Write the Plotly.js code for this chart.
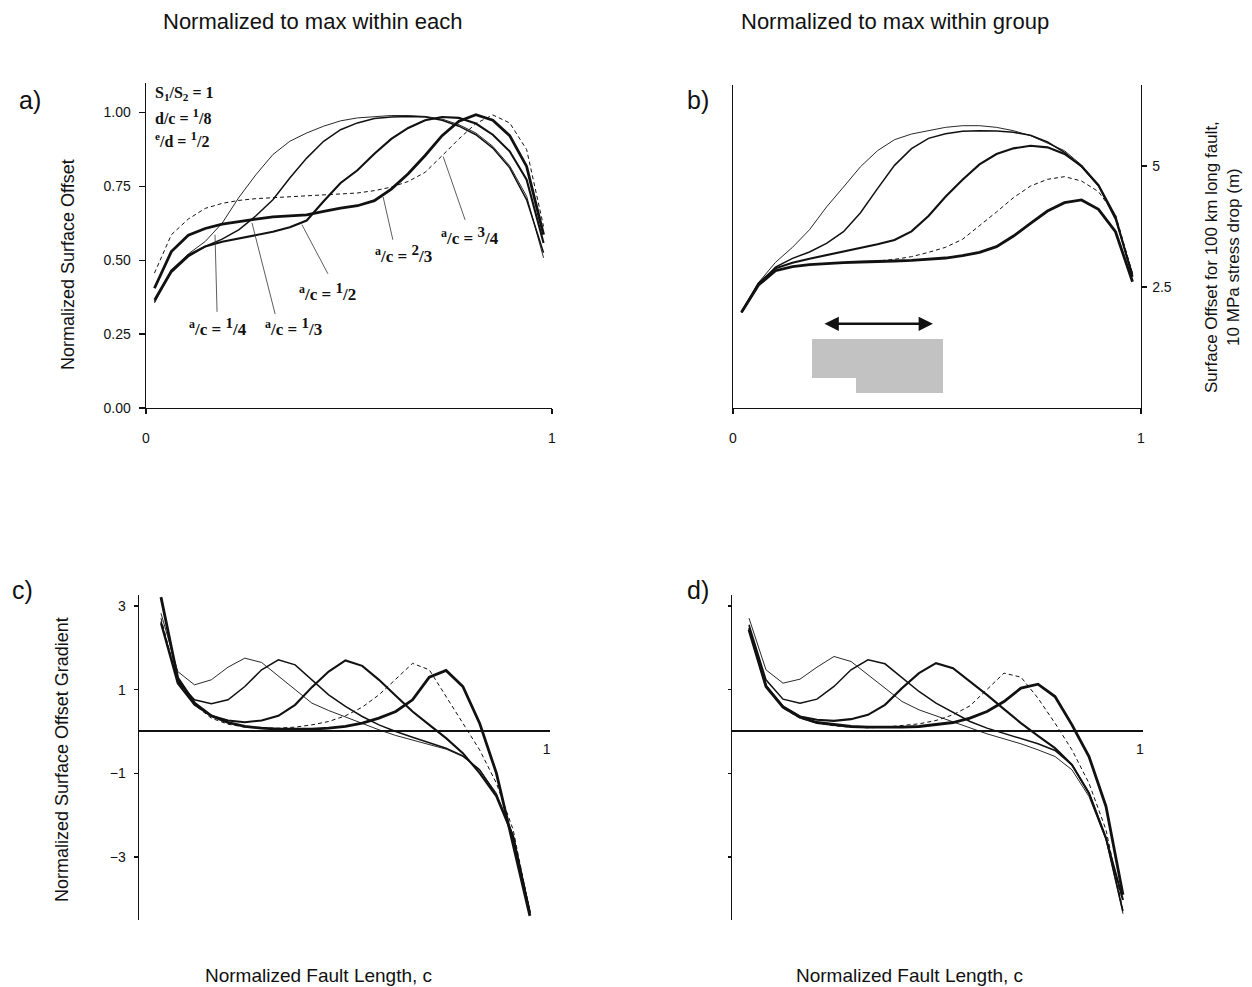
<!DOCTYPE html>
<html>
<head>
<meta charset="utf-8">
<script src="https://cdn.plot.ly/plotly-3.0.1.min.js"></script>
<style>html,body{margin:0;padding:0;background:#fff;}</style>
</head>
<body>
<div id="chart" style="width:1252px;height:987px;"></div>
<script>
// Sample positions along the fault (normalized length c)
const offsetPos = [0.0208, 0.0625, 0.1042, 0.1458, 0.1875, 0.2292, 0.2708, 0.3125, 0.3542, 0.3958,
  0.4375, 0.4792, 0.5208, 0.5625, 0.6042, 0.6458, 0.6875, 0.7292, 0.7708, 0.8125, 0.8542, 0.8958, 0.9375, 0.9792];
const gradientPos = [0.0417, 0.0833, 0.125, 0.1667, 0.2083, 0.25, 0.2917, 0.3333, 0.375, 0.4167,
  0.4583, 0.5, 0.5417, 0.5833, 0.625, 0.6667, 0.7083, 0.75, 0.7917, 0.8333, 0.875, 0.9167, 0.9583];

// a) surface offset, each curve normalized to its own maximum
const eachThin   = [0.355, 0.462, 0.521, 0.563, 0.625, 0.713, 0.789, 0.857, 0.902, 0.930, 0.953, 0.971, 0.981, 0.986, 0.989, 0.989, 0.986, 0.977, 0.958, 0.930, 0.885, 0.819, 0.716, 0.508];
const eachMedium = [0.360, 0.458, 0.512, 0.546, 0.571, 0.603, 0.650, 0.704, 0.778, 0.845, 0.902, 0.941, 0.964, 0.979, 0.984, 0.986, 0.984, 0.973, 0.953, 0.924, 0.879, 0.812, 0.704, 0.525];
const eachThick  = [0.366, 0.465, 0.517, 0.546, 0.562, 0.573, 0.585, 0.596, 0.611, 0.634, 0.699, 0.761, 0.804, 0.860, 0.910, 0.947, 0.973, 0.984, 0.981, 0.962, 0.924, 0.868, 0.772, 0.558];
const eachDashed = [0.456, 0.586, 0.639, 0.675, 0.692, 0.702, 0.708, 0.711, 0.713, 0.716, 0.719, 0.722, 0.727, 0.735, 0.747, 0.766, 0.797, 0.853, 0.910, 0.962, 0.991, 0.964, 0.874, 0.614];
const eachBold   = [0.405, 0.529, 0.584, 0.607, 0.622, 0.631, 0.639, 0.646, 0.650, 0.653, 0.665, 0.676, 0.684, 0.701, 0.740, 0.792, 0.854, 0.921, 0.970, 0.992, 0.973, 0.921, 0.817, 0.586];

// b) surface offset in metres (100 km fault, 10 MPa stress drop)
const groupThin   = [1.977, 2.590, 3.010, 3.320, 3.684, 4.153, 4.566, 4.986, 5.317, 5.544, 5.661, 5.737, 5.799, 5.833, 5.833, 5.799, 5.730, 5.627, 5.468, 5.317, 5.021, 4.607, 3.919, 2.780];
const groupMedium = [1.977, 2.541, 2.913, 3.092, 3.223, 3.402, 3.643, 4.036, 4.532, 5.014, 5.358, 5.572, 5.668, 5.716, 5.730, 5.723, 5.696, 5.634, 5.496, 5.282, 4.986, 4.587, 3.898, 2.750];
const groupThick  = [1.977, 2.576, 2.886, 3.003, 3.085, 3.161, 3.223, 3.306, 3.382, 3.471, 3.650, 3.967, 4.366, 4.718, 5.034, 5.248, 5.365, 5.420, 5.386, 5.248, 5.000, 4.607, 3.953, 2.710];
const groupDashed = [1.977, 2.562, 2.837, 2.920, 2.961, 2.989, 3.010, 3.023, 3.037, 3.072, 3.127, 3.216, 3.320, 3.485, 3.760, 4.050, 4.346, 4.587, 4.725, 4.780, 4.690, 4.470, 3.988, 2.780];
const groupBold   = [1.977, 2.541, 2.837, 2.920, 2.961, 2.989, 3.003, 3.017, 3.023, 3.037, 3.051, 3.072, 3.099, 3.147, 3.216, 3.333, 3.554, 3.815, 4.070, 4.242, 4.298, 4.105, 3.643, 2.610];

// c) offset gradient, normalized within each curve
const gradEachThin   = [2.83, 1.435, 1.116, 1.236, 1.539, 1.754, 1.651, 1.332, 1.013, 0.678, 0.502, 0.343, 0.199, 0.040, -0.096, -0.199, -0.303, -0.423, -0.598, -0.917, -1.475, -2.472, -4.31];
const gradEachMedium = [2.63, 1.196, 0.758, 0.662, 0.758, 1.077, 1.475, 1.715, 1.595, 1.236, 0.877, 0.598, 0.359, 0.159, 0.0, -0.136, -0.263, -0.399, -0.582, -0.917, -1.515, -2.512, -4.31];
const gradEachThick  = [2.59, 1.156, 0.638, 0.375, 0.263, 0.223, 0.263, 0.375, 0.638, 1.061, 1.435, 1.699, 1.571, 1.236, 0.853, 0.478, 0.159, -0.159, -0.518, -0.997, -1.555, -2.512, -4.346];
const gradEachDashed = [2.71, 1.196, 0.638, 0.319, 0.175, 0.104, 0.080, 0.080, 0.104, 0.159, 0.239, 0.375, 0.582, 0.877, 1.252, 1.630, 1.475, 0.837, 0.199, -0.439, -1.236, -2.352, -4.33];
const gradEachBold   = [3.214, 1.276, 0.678, 0.375, 0.215, 0.120, 0.080, 0.056, 0.056, 0.056, 0.080, 0.120, 0.199, 0.319, 0.478, 0.758, 1.300, 1.459, 1.077, 0.199, -0.997, -2.671, -4.41];

// d) offset gradient, normalized within the group
const gradGroupThin   = [2.711, 1.475, 1.156, 1.252, 1.539, 1.794, 1.675, 1.356, 1.037, 0.718, 0.518, 0.375, 0.239, 0.080, -0.056, -0.175, -0.295, -0.439, -0.598, -0.917, -1.555, -2.592, -4.36];
const gradGroupMedium = [2.552, 1.236, 0.774, 0.678, 0.774, 1.077, 1.475, 1.715, 1.619, 1.276, 0.957, 0.678, 0.455, 0.239, 0.080, -0.040, -0.159, -0.295, -0.455, -0.797, -1.475, -2.552, -4.30];
const gradGroupThick  = [2.472, 1.093, 0.598, 0.359, 0.279, 0.255, 0.295, 0.399, 0.638, 1.037, 1.396, 1.635, 1.515, 1.196, 0.877, 0.534, 0.199, -0.104, -0.399, -0.797, -1.475, -2.552, -4.03];
const gradGroupDashed = [2.512, 1.116, 0.558, 0.319, 0.199, 0.136, 0.104, 0.088, 0.104, 0.136, 0.183, 0.263, 0.399, 0.614, 0.997, 1.396, 1.300, 0.797, 0.199, -0.439, -1.236, -2.352, -4.28];
const gradGroupBold   = [2.432, 1.077, 0.582, 0.343, 0.215, 0.159, 0.120, 0.104, 0.096, 0.104, 0.120, 0.159, 0.215, 0.319, 0.478, 0.718, 1.037, 1.132, 0.837, 0.159, -0.598, -1.794, -3.907];

// Axis tick values and labels
const offsetTicks = [0, 0.25, 0.5, 0.75, 1];
const metreTicks = [2.5, 5];
const metreTickText = ['2.5', '5'];
const gradientTicks = [-3, -1, 1, 3];
const lengthTicks = [0, 1];
const lengthTickText = ['0', '1'];

const W = 1252, H = 987;
const fx = p => p / W;
const fy = p => 1 - p / H;
const INK = '#111';
const SANS = 'Liberation Sans, Arial, sans-serif';
const SERIF = 'Liberation Serif, Times New Roman, serif';

const STYLE = {
  thin:   {width: 0.9, dash: 'solid'},
  medium: {width: 1.5, dash: 'solid'},
  thick:  {width: 2.1, dash: 'solid'},
  dashed: {width: 1.0, dash: '4px,3px'},
  bold:   {width: 2.8, dash: 'solid'}
};

function curve(x, y, xa, ya, style) {
  return {
    x: x, y: y, xaxis: xa, yaxis: ya, type: 'scatter', mode: 'lines',
    line: {color: INK, width: STYLE[style].width, dash: STYLE[style].dash, shape: 'linear'},
    hoverinfo: 'skip', showlegend: false
  };
}

const traces = [
  curve(offsetPos, eachThin, 'x', 'y', 'thin'),
  curve(offsetPos, eachMedium, 'x', 'y', 'medium'),
  curve(offsetPos, eachThick, 'x', 'y', 'thick'),
  curve(offsetPos, eachDashed, 'x', 'y', 'dashed'),
  curve(offsetPos, eachBold, 'x', 'y', 'bold'),

  curve(offsetPos, groupThin, 'x2', 'y2', 'thin'),
  curve(offsetPos, groupMedium, 'x2', 'y2', 'medium'),
  curve(offsetPos, groupThick, 'x2', 'y2', 'thick'),
  curve(offsetPos, groupDashed, 'x2', 'y2', 'dashed'),
  curve(offsetPos, groupBold, 'x2', 'y2', 'bold'),

  curve(gradientPos, gradEachThin, 'x3', 'y3', 'thin'),
  curve(gradientPos, gradEachMedium, 'x3', 'y3', 'medium'),
  curve(gradientPos, gradEachThick, 'x3', 'y3', 'thick'),
  curve(gradientPos, gradEachDashed, 'x3', 'y3', 'dashed'),
  curve(gradientPos, gradEachBold, 'x3', 'y3', 'bold'),

  curve(gradientPos, gradGroupThin, 'x4', 'y4', 'thin'),
  curve(gradientPos, gradGroupMedium, 'x4', 'y4', 'medium'),
  curve(gradientPos, gradGroupThick, 'x4', 'y4', 'thick'),
  curve(gradientPos, gradGroupDashed, 'x4', 'y4', 'dashed'),
  curve(gradientPos, gradGroupBold, 'x4', 'y4', 'bold')
];

// Subplot frames (pixel placement converted to paper fractions)
const domA = {x: [fx(146), fx(552)], y: [fy(408), fy(83)]};
const domB = {x: [fx(733), fx(1141)], y: [fy(408), fy(85)]};
const domC = {x: [fx(139), fx(550)], y: [fy(919.6), fy(594.8)]};
const domD = {x: [fx(732), fx(1143)], y: [fy(919.6), fy(594.8)]};
const gradRange = [-4.5, 3.27];
// x axis of the gradient panels sits on the zero line
const zeroPos = dom => dom.y[0] + (0 - gradRange[0]) / (gradRange[1] - gradRange[0]) * (dom.y[1] - dom.y[0]);

const tickFont = {family: SANS, size: 14, color: INK};
const baseAxis = {
  showgrid: false, zeroline: false, showline: true, linecolor: INK, linewidth: 1.4,
  tickcolor: INK, tickwidth: 1.2, tickfont: tickFont, fixedrange: true
};

const layout = {
  width: W, height: H, autosize: false,
  margin: {l: 0, r: 0, t: 0, b: 0, pad: 0},
  paper_bgcolor: '#fff', plot_bgcolor: 'rgba(0,0,0,0)',
  showlegend: false,
  xaxis: Object.assign({}, baseAxis, {domain: domA.x, range: [0, 1], anchor: 'y',
    tickvals: lengthTicks, ticktext: lengthTickText, ticks: 'outside', ticklen: 5, ticklabelstandoff: 12}),
  yaxis: Object.assign({}, baseAxis, {domain: domA.y, range: [0, 1.099], anchor: 'x',
    tickvals: offsetTicks, tickformat: '.2f', ticks: 'outside', ticklen: 6, ticklabelstandoff: 5}),
  xaxis2: Object.assign({}, baseAxis, {domain: domB.x, range: [0, 1], anchor: 'y2',
    tickvals: lengthTicks, ticktext: lengthTickText, ticks: 'outside', ticklen: 5, ticklabelstandoff: 12}),
  yaxis2: Object.assign({}, baseAxis, {domain: domB.y, range: [0, 6.674], anchor: 'x2', side: 'right', mirror: true,
    tickvals: metreTicks, ticktext: metreTickText, ticks: 'outside', ticklen: 5, ticklabelstandoff: 2}),
  xaxis3: Object.assign({}, baseAxis, {domain: domC.x, range: [-0.0129, 1.0082], anchor: 'free', position: zeroPos(domC),
    linewidth: 2, tickvals: [1], ticktext: ['1'], ticks: '', ticklabelstandoff: 5}),
  yaxis3: Object.assign({}, baseAxis, {domain: domC.y, range: gradRange, anchor: 'x3',
    tickvals: gradientTicks, ticks: 'outside', ticklen: 4, ticklabelstandoff: 5}),
  xaxis4: Object.assign({}, baseAxis, {domain: domD.x, range: [0, 1.0074], anchor: 'free', position: zeroPos(domD),
    linewidth: 2, tickvals: [1], ticktext: ['1'], ticks: '', ticklabelstandoff: 5}),
  yaxis4: Object.assign({}, baseAxis, {domain: domD.y, range: gradRange, anchor: 'x4',
    tickvals: gradientTicks, ticks: 'outside', ticklen: 3, showticklabels: false}),
  shapes: [],
  annotations: []
};

function label(x, y, text, size, extra) {
  return Object.assign({
    xref: 'paper', yref: 'paper', x: fx(x), y: fy(y), text: text, showarrow: false,
    xanchor: 'center', yanchor: 'middle', font: {family: SANS, size: size, color: INK}
  }, extra || {});
}

const serifBold = {family: SERIF, size: 17, color: INK};
const paramFont = {family: SERIF, size: 16, color: INK};
// raised numerator that keeps nearly full size, as in a typeset fraction
const num = (t, px) => '<sup><span style="font-size:' + px + 'px">' + t + '</span></sup>';

layout.annotations.push(
  label(313, 22, 'Normalized to max within each', 22),
  label(895, 22, 'Normalized to max within group', 22),
  label(30, 100, 'a)', 25),
  label(698, 100, 'b)', 25),
  label(22, 590, 'c)', 25),
  label(698, 590, 'd)', 25),
  label(68, 265, 'Normalized Surface Offset', 18, {textangle: -90}),
  label(62, 760, 'Normalized Surface Offset Gradient', 18, {textangle: -90}),
  label(1222, 257, 'Surface Offset for 100 km long fault,<br>10 MPa stress drop (m)', 17, {textangle: -90}),
  label(318, 975, 'Normalized Fault Length, c', 19),
  label(909, 975, 'Normalized Fault Length, c', 19),
  // model parameters
  label(153, 93, '<b>S<sub>1</sub>/S<sub>2</sub> = 1</b>', 16, {xanchor: 'left', font: paramFont}),
  label(153, 116, '<b>d/c = ' + num('1', 13) + '/8</b>', 16, {xanchor: 'left', font: paramFont}),
  label(153, 139, '<b><sup>e</sup>/d = ' + num('1', 13) + '/2</b>', 16, {xanchor: 'left', font: paramFont}),
  // curve labels
  label(218, 327, '<b><sup>a</sup>/c = ' + num('1', 15) + '/4</b>', 17, {font: serifBold}),
  label(293, 327, '<b><sup>a</sup>/c = ' + num('1', 15) + '/3</b>', 17, {font: serifBold}),
  label(327, 292, '<b><sup>a</sup>/c = ' + num('1', 15) + '/2</b>', 17, {font: serifBold}),
  label(404, 254, '<b><sup>a</sup>/c = ' + num('2', 15) + '/3</b>', 17, {font: serifBold}),
  label(470, 236, '<b><sup>a</sup>/c = ' + num('3', 15) + '/4</b>', 17, {font: serifBold})
);

// leader lines from the curve labels to their curves (panel a data space)
const leaders = [
  [0.175, 0.325, 0.170, 0.586],
  [0.318, 0.318, 0.261, 0.626],
  [0.448, 0.454, 0.384, 0.620],
  [0.608, 0.569, 0.584, 0.714],
  [0.786, 0.636, 0.732, 0.850]
];
leaders.forEach(l => layout.shapes.push({
  type: 'line', xref: 'x', yref: 'y', x0: l[0], y0: l[1], x1: l[2], y1: l[3],
  line: {color: '#333', width: 0.8}
}));

// fault sketch in panel b: stippled block and double arrow
layout.shapes.push({
  type: 'path', xref: 'x2', yref: 'y2',
  path: 'M0.1936,1.4256 L0.5147,1.4256 L0.5147,0.3099 L0.3015,0.3099 L0.3015,0.6198 L0.1936,0.6198 Z',
  fillcolor: '#c2c2c2', line: {width: 0}
});
layout.annotations.push({
  xref: 'x2', yref: 'y2', axref: 'x2', ayref: 'y2',
  x: 0.490, y: 1.74, ax: 0.2206, ay: 1.74, text: '',
  showarrow: true, arrowhead: 2, arrowside: 'end+start', arrowsize: 1.1, arrowwidth: 2.6, arrowcolor: INK
});

Plotly.newPlot('chart', traces, layout, {staticPlot: true, displayModeBar: false});
</script>
</body>
</html>
